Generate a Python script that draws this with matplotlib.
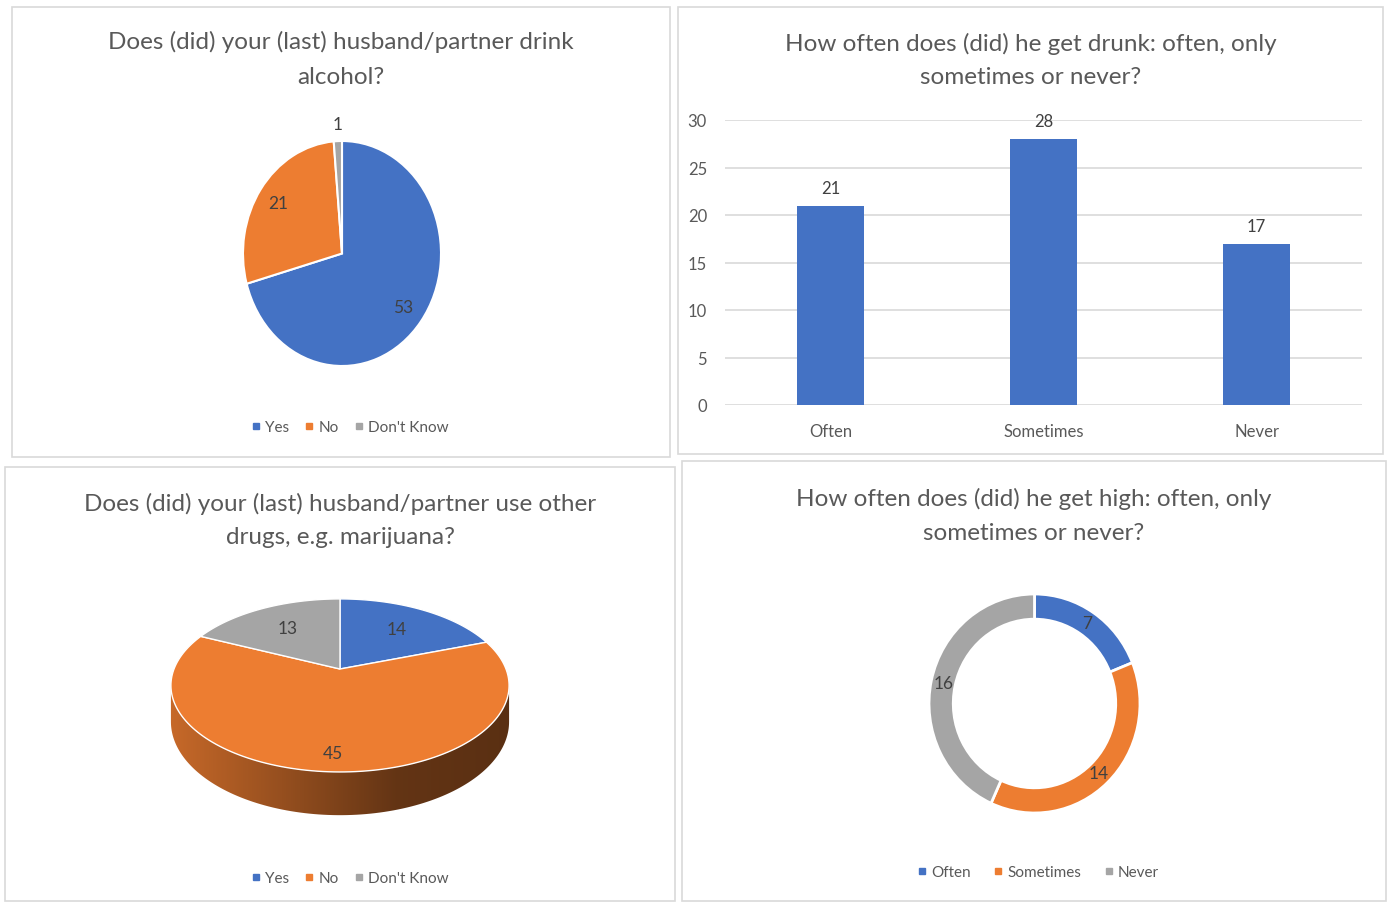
import numpy as np
import matplotlib.pyplot as plt
from matplotlib.patches import Rectangle, Polygon
from matplotlib.lines import Line2D
from matplotlib.colors import LinearSegmentedColormap, to_rgb

plt.rcParams['font.family'] = ['Lato', 'DejaVu Sans']

# survey answers
alcohol_labels = ['Yes', 'No', "Don't Know"]
alcohol_counts = [53, 21, 1]

drunk_labels = ['Often', 'Sometimes', 'Never']
drunk_counts = [21, 28, 17]

drugs_labels = ['Yes', 'No', "Don't Know"]
drugs_counts = [14, 45, 13]

high_labels = ['Often', 'Sometimes', 'Never']
high_counts = [7, 14, 16]

colors = ['#4472C4', '#ED7D31', '#A5A5A5']
title_color = '#595959'
label_color = '#404040'

W, H = 1390, 903
fig = plt.figure(figsize=(W / 100, H / 100), dpi=100)


def fbox(x0, y0, x1, y1):
    # pixel box (top-left origin) -> figure fraction rect
    return [x0 / W, 1 - y1 / H, (x1 - x0) / W, (y1 - y0) / H]


def ftext(x, y, s, size=17.5, color=title_color, **kw):
    fig.text(x / W, 1 - y / H, s, fontsize=size, color=color,
             ha='center', va='center', **kw)


def legend_at(x, y, labels, gap=1.0):
    handles = [Line2D([], [], marker='s', ls='none', ms=4.5, color=c) for c in colors]
    fig.legend(handles, labels, loc='center', bbox_to_anchor=(x / W, 1 - y / H),
               ncol=3, frameon=False, fontsize=11, labelcolor=title_color,
               handlelength=0.6, handletextpad=0.3, columnspacing=gap)


def angles(counts):
    # clockwise from 12 o'clock, in degrees
    c = np.cumsum([0] + list(counts)) / sum(counts) * 360
    return c[:-1], c[1:]


# panel frames
for b in [(12, 8, 670, 458), (678, 8, 1383, 455), (5, 468, 675, 902), (682, 462, 1386, 902)]:
    fig.add_artist(Rectangle((b[0] / W, 1 - b[3] / H), (b[2] - b[0]) / W, (b[3] - b[1]) / H,
                             transform=fig.transFigure, fill=False, ec='#D9D9D9', lw=1.2))

# --- top left: flat pie ---
ftext(341, 42, 'Does (did) your (last) husband/partner drink')
ftext(341, 77, 'alcohol?')
ax1 = fig.add_axes(fbox(243, 142, 441, 367))
ax1.pie(alcohol_counts, colors=colors, startangle=90, counterclock=False,
        wedgeprops=dict(edgecolor='white', linewidth=1.5))
ax1.set_aspect('auto')
ax1.set_xlim(-1, 1)
ax1.set_ylim(-1, 1)
s, e = angles(alcohol_counts)
for v, a0, a1 in zip(alcohol_counts, s, e):
    mid = np.radians(90 - (a0 + a1) / 2)
    r = 0.78 if v / sum(alcohol_counts) > 0.05 else 1.15
    ax1.text(r * np.cos(mid), r * np.sin(mid), str(v), ha='center', va='center',
             fontsize=12.5, color=label_color, clip_on=False)
legend_at(350, 428, alcohol_labels)

# --- top right: bars ---
ftext(1031, 44, 'How often does (did) he get drunk: often, only')
ftext(1031, 78, 'sometimes or never?')
ax2 = fig.add_axes(fbox(725, 121, 1362, 406))
x = np.arange(len(drunk_counts))
bars = ax2.bar(x, drunk_counts, width=0.315, color=colors[0], zorder=3)
ax2.bar_label(bars, padding=7, fontsize=12, color=label_color)
ax2.set_xlim(-0.494, 2.494)
ax2.set_ylim(0, 30)
ax2.set_yticks(range(0, 31, 5))
ax2.set_xticks(x, drunk_labels)
ax2.tick_params(length=0, labelsize=12, labelcolor=title_color)
ax2.tick_params(axis='x', pad=13)
ax2.tick_params(axis='y', pad=13)
ax2.yaxis.grid(True, color='#D9D9D9', lw=1.2)
ax2.set_axisbelow(True)
for sp in ax2.spines.values():
    sp.set_visible(False)

# --- bottom left: tilted 3-D pie ---
ftext(340, 504, 'Does (did) your (last) husband/partner use other')
ftext(340, 538, 'drugs, e.g. marijuana?')
ax3 = fig.add_axes(fbox(150, 580, 530, 830))
RX, RY, P, T0 = 166, 83.4, 0.19, 35


def proj(theta, r=1.0):
    t = np.radians(theta)
    u, v = r * np.sin(t), -r * np.cos(t)
    w = 1 - P * v
    return RX * u / w, RY * v / w, w


tR = np.degrees(np.arccos(-P))
tL = 360 - tR
s, e = angles(drugs_counts)
for c, a0, a1 in zip(colors, s, e):
    lo, hi = max(a0, tR), min(a1, tL)
    if hi <= lo:
        continue
    th = np.linspace(lo, hi, 120)
    px, py, w = proj(th)
    top = np.column_stack([px, py])
    bot = np.column_stack([px, py + T0 / w])
    side = Polygon(np.vstack([top, bot[::-1]]), closed=True, fc='none', ec='none')
    ax3.add_patch(side)
    rgb = np.array(to_rgb(c))
    cmap = LinearSegmentedColormap.from_list('side', [rgb * 0.84, rgb * 0.63, rgb * 0.42, rgb * 0.38])
    grad = np.linspace(0, 1, 256).reshape(1, -1)
    im = ax3.imshow(grad, extent=(-RX * 1.03, RX * 1.03, 170, -20), cmap=cmap,
                    aspect='auto', zorder=1)
    im.set_clip_path(side)

for c, a0, a1 in zip(colors, s, e):
    px, py, _ = proj(np.linspace(a0, a1, 150))
    pts = np.vstack([[0, 0], np.column_stack([px, py])])
    ax3.add_patch(Polygon(pts, closed=True, fc=c, ec='white', lw=1, zorder=2))

label_r = [0.65, 0.85, 0.65]
for v, a0, a1, r in zip(drugs_counts, s, e, label_r):
    lx, ly, _ = proj((a0 + a1) / 2, r)
    ax3.text(lx, ly, str(v), ha='center', va='center', fontsize=12.5,
             color=label_color, zorder=4)
ax3.set_xlim(-190, 190)
ax3.set_ylim(160, -90)
ax3.axis('off')
legend_at(350, 879, drugs_labels)

# --- bottom right: donut ---
ftext(1034, 499, 'How often does (did) he get high: often, only')
ftext(1034, 533, 'sometimes or never?')
ax4 = fig.add_axes(fbox(929, 595, 1140, 814))
ring = 0.23
ax4.pie(high_counts, colors=colors, startangle=90, counterclock=False,
        wedgeprops=dict(width=ring, edgecolor='white', linewidth=2))
ax4.set_aspect('auto')
ax4.set_xlim(-1, 1)
ax4.set_ylim(-1, 1)
s, e = angles(high_counts)
for v, a0, a1 in zip(high_counts, s, e):
    mid = np.radians(90 - (a0 + a1) / 2)
    r = 1 - ring / 2
    ax4.text(r * np.cos(mid), r * np.sin(mid), str(v), ha='center', va='center',
             fontsize=12.5, color=label_color)
legend_at(1038, 873, high_labels, gap=1.5)

fig.savefig('out.png', dpi=100, facecolor='white')
